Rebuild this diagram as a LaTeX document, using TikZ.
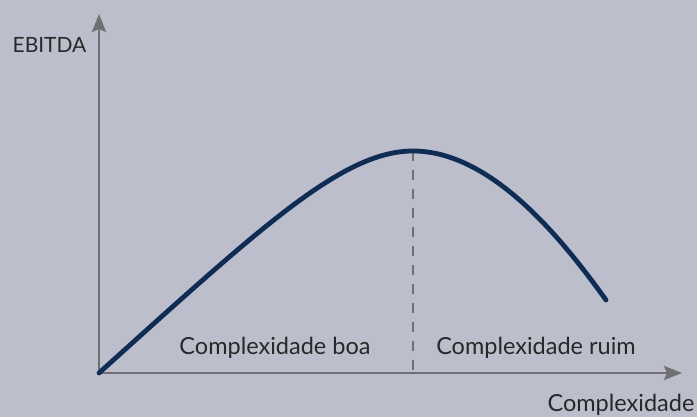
\documentclass[tikz,border=0pt]{standalone}
\usepackage{fontspec}
\setmainfont{Lato}
\usetikzlibrary{arrows.meta}

\definecolor{bgGrey}{RGB}{188,190,203}
\definecolor{axisGrey}{RGB}{112,112,115}
\definecolor{curveNavy}{RGB}{14,44,84}
\definecolor{labelInk}{RGB}{40,40,42}

\tikzset{
    axis/.style={line width=2.6pt, draw=axisGrey, -{Stealth[length=18pt, width=14pt, inset=3pt]}},
    split/.style={line width=2pt, draw=axisGrey, dash pattern=on 10pt off 9pt},
    ebitda/.style={line width=4.8pt, draw=curveNavy, line cap=round},
    lbl/.style={text=labelInk, inner sep=0pt, anchor=base, font=\fontsize{23.5pt}{28pt}\selectfont}
}

\begin{document}
\begin{tikzpicture}[x=1pt, y=1pt]
        % --- Background and frame ---
        \useasboundingbox (0,0) rectangle (697,417);
        \fill[bgGrey] (0,0) rectangle (697,417);
        % ---

        % --- Axes ---
        \coordinate (origo) at (99,44);
        \coordinate (yTop) at (99,403);
        \coordinate (xEnd) at (682,44);
        \draw[axis] (origo) -- (yTop);
        \draw[axis] (origo) -- (xEnd);
        \node[lbl, font=\fontsize{21pt}{25pt}\selectfont] (yLabel) at (49.5,364) {EBITDA};
        \node[lbl] (xLabel) at (621,5) {Complexidade};
        % ---

        % --- Curve and split at the peak ---
        \coordinate (peak) at (413,266);
        \coordinate (peakFoot) at (413,44);
        \coordinate (curveEnd) at (606,117);
        \draw[split] (peak) -- (peakFoot);
        \draw[ebitda] (origo) .. controls (262,191) and (343,266) .. (peak)
            .. controls (493,266) and (565,174) .. (curveEnd);
        \node[lbl] (goodLabel) at (275,62) {Complexidade boa};
        \node[lbl] (badLabel) at (536,62) {Complexidade ruim};
        % ---
    \end{tikzpicture}
\end{document}
